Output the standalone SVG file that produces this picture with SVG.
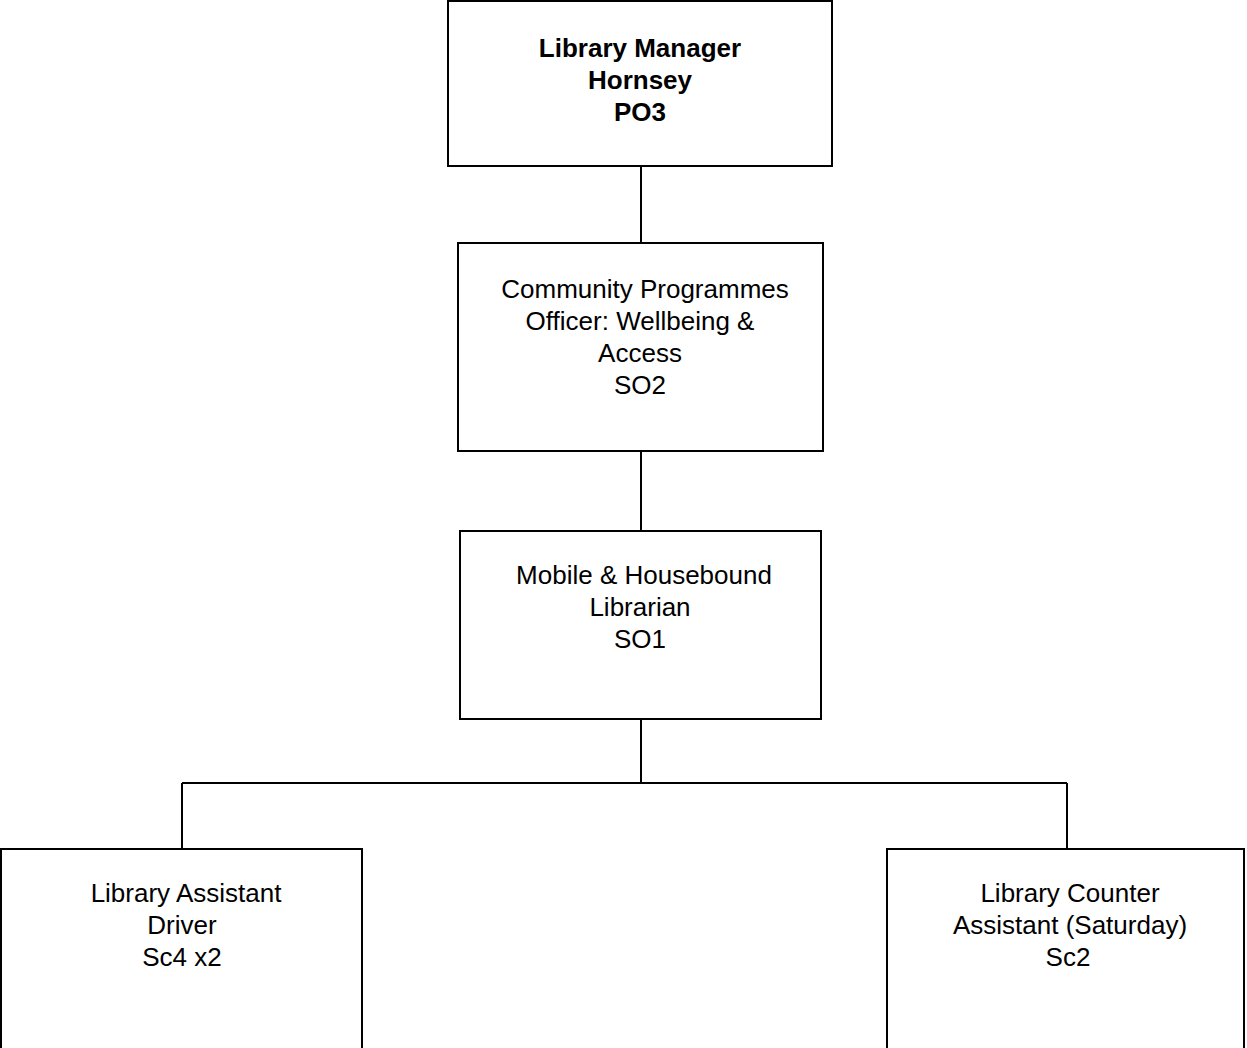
<svg xmlns="http://www.w3.org/2000/svg" width="1247" height="1048" viewBox="0 0 1247 1048">
<style>
.box{fill:#fff;stroke:#000;stroke-width:2}
.conn{fill:none;stroke:#000;stroke-width:2}
text{font-family:"Liberation Sans",Arial,sans-serif;font-size:26px;fill:#000;text-anchor:middle}
.b{font-weight:bold}
</style>
<rect width="1247" height="1048" fill="#fff"/>
<g id="connectors">
<path class="conn" d="M641,166V243M641,451V531M641,719V783M182,783H1067M182,783V849M1067,783V849"/>
</g>
<g id="n1">
<rect class="box" x="448" y="1" width="384" height="165"/>
<text class="b" x="640" y="57">Library Manager</text>
<text class="b" x="640" y="89">Hornsey</text>
<text class="b" x="640" y="121">PO3</text>
</g>
<g id="n2">
<rect class="box" x="458" y="243" width="365" height="208"/>
<text x="645" y="298">Community Programmes</text>
<text x="640" y="330">Officer: Wellbeing &amp;</text>
<text x="640" y="362">Access</text>
<text x="640" y="394">SO2</text>
</g>
<g id="n3">
<rect class="box" x="460" y="531" width="361" height="188"/>
<text x="644" y="584">Mobile &amp; Housebound</text>
<text x="640" y="616">Librarian</text>
<text x="640" y="648">SO1</text>
</g>
<g id="n4">
<rect class="box" x="1" y="849" width="361" height="210"/>
<text x="186" y="902">Library Assistant</text>
<text x="182" y="934">Driver</text>
<text x="182" y="966">Sc4 x2</text>
</g>
<g id="n5">
<rect class="box" x="887" y="849" width="357" height="210"/>
<text x="1070" y="902">Library Counter</text>
<text x="1070" y="934">Assistant (Saturday)</text>
<text x="1068" y="966">Sc2</text>
</g>
</svg>
